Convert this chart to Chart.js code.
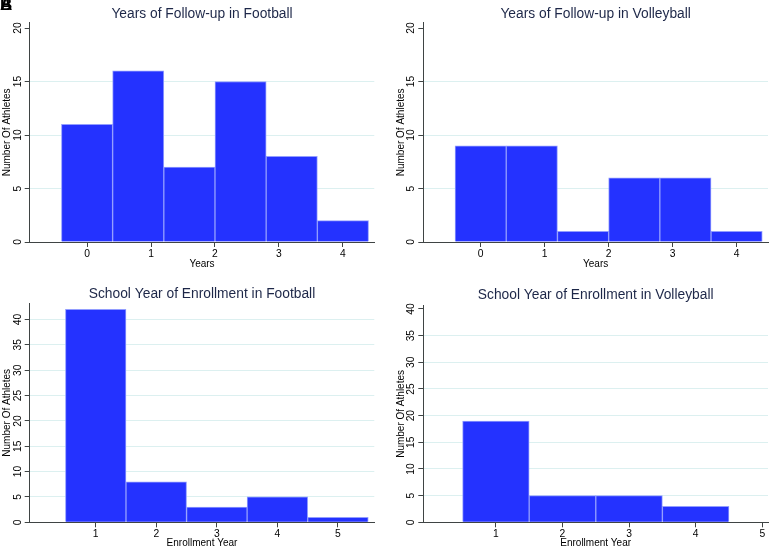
<!DOCTYPE html>
<html>
<head>
<meta charset="utf-8">
<script src="https://cdn.jsdelivr.net/npm/chart.js@4"></script>
<style>
  html, body { margin: 0; padding: 0; background: #fff; overflow: hidden; }
  #wrap { position: relative; width: 770px; height: 549px; overflow: hidden; background: #fff; }
  canvas { position: absolute; }
  .lbl { position: absolute; left: 0; top: -4px; font: bold 17px "Liberation Sans", Arial, sans-serif; color: #000; line-height: 17px; }
</style>
</head>
<body>
<div id="wrap">
  <canvas id="c1"></canvas>
  <canvas id="c2"></canvas>
  <canvas id="c3"></canvas>
  <canvas id="c4"></canvas>
  <div class="lbl">A</div>
  <div class="lbl">B</div>
</div>
<script>
// ---- data ----
const followBinCenters = [0, 0.8, 1.6, 2.4, 3.2, 4.0];
const footballFollowUp = [11, 16, 7, 15, 8, 2];
const volleyballFollowUp = [9, 9, 1, 6, 6, 1];
const footballEnrollYears = [1, 2, 3, 4, 5];
const footballEnrollment = [42, 8, 3, 5, 1];
const volleyballEnrollYears = [1, 2, 3, 4];
const volleyballEnrollment = [19, 5, 5, 3];
const followXTicks = [0, 1, 2, 3, 4];
const enrollXTicks = [1, 2, 3, 4, 5];
const followYTicks = [0, 5, 10, 15, 20];
const enrollYTicks = [0, 5, 10, 15, 20, 25, 30, 35, 40];
const titles = [
  'Years of Follow-up in Football',
  'Years of Follow-up in Volleyball',
  'School Year of Enrollment in Football',
  'School Year of Enrollment in Volleyball'
];
const xTitles = ['Years', 'Years', 'Enrollment Year', 'Enrollment Year'];
const yTitle = 'Number Of Athletes';

// ---- styling ----
const FONT = '"Liberation Sans", Arial, Helvetica, sans-serif';
const BAR = '#2432ff';
const BAR_EDGE = 'rgba(140,152,255,0.95)';
const AXIS = '#3f4444';
const GRID = '#dcf0f0';
const TITLE_COLOR = '#1d2748';

function makePanel(id, box, lay, centers, values, xTicks, yTicks, xr, yr, title, xTitle, hideTopGrid) {
  const cv = document.getElementById(id);
  cv.width = box.w; cv.height = box.h;
  cv.style.left = box.x + 'px'; cv.style.top = box.y + 'px';
  cv.style.width = box.w + 'px'; cv.style.height = box.h + 'px';
  const data = centers.map((c, i) => ({ x: c, y: values[i] }));
  new Chart(cv, {
    type: 'bar',
    data: { datasets: [{ data, backgroundColor: BAR, borderColor: BAR_EDGE, borderWidth: 1,
      barPercentage: 1, categoryPercentage: 1 }] },
    options: {
      responsive: false, animation: false, devicePixelRatio: 1,
      layout: { padding: { left: 0, top: 0, bottom: 0, right: lay.padR } },
      plugins: {
        legend: { display: false }, tooltip: { enabled: false },
        title: { display: true, fullSize: false, text: title, color: TITLE_COLOR,
          font: { family: FONT, size: 13.8, weight: 'normal', lineHeight: 1.2 },
          padding: { top: lay.tTop, bottom: lay.tBot } }
      },
      scales: {
        x: {
          type: 'linear', min: xr[0], max: xr[1], offset: false,
          afterFit: s => { s.height = lay.xH; },
          afterBuildTicks: s => { s.ticks = xTicks.map(v => ({ value: v })); },
          grid: { display: true, drawOnChartArea: false, offset: false, tickLength: 5, tickColor: AXIS, tickWidth: 1 },
          border: { display: true, color: AXIS, width: 1 },
          ticks: { autoSkip: false, maxRotation: 0, minRotation: 0, padding: 1, color: '#000',
            font: { family: FONT, size: 10.3 } },
          title: { display: true, text: xTitle, color: '#000', font: { family: FONT, size: 10, lineHeight: 1.2 },
            padding: { top: 0, bottom: lay.xtB } }
        },
        y: {
          type: 'linear', min: yr[0], max: yr[1],
          afterFit: s => { s.width = lay.yW; },
          afterBuildTicks: s => { s.ticks = yTicks.map(v => ({ value: v })); },
          grid: {
            drawOnChartArea: true, tickLength: 5, tickColor: AXIS, tickWidth: 1, lineWidth: 1,
            color: ctx => {
              const v = ctx.tick ? ctx.tick.value : null;
              if (v === 0) return 'rgba(0,0,0,0)';
              if (hideTopGrid && v === yTicks[yTicks.length - 1]) return 'rgba(0,0,0,0)';
              return GRID;
            }
          },
          border: { display: true, color: AXIS, width: 1 },
          ticks: { autoSkip: false, minRotation: 90, maxRotation: 90, crossAlign: 'center', padding: 1,
            color: '#000', font: { family: FONT, size: 10.3 } },
          title: { display: true, text: yTitle, color: '#000', font: { family: FONT, size: 10, lineHeight: 1.2 },
            padding: { top: lay.ytT, bottom: 0 } }
        }
      }
    }
  });
}

makePanel('c1', { x: 0, y: 0, w: 385, h: 275 },
  { padR: 10.7, yW: 29.7, xH: 33, tTop: 5.5, tBot: 0.64, xtB: 5, ytT: 1.5 },
  followBinCenters, footballFollowUp, followXTicks, followYTicks, [-0.896, 4.49], [0, 20.5], titles[0], xTitles[0], true);

makePanel('c2', { x: 385, y: 0, w: 385, h: 275 },
  { padR: 2, yW: 38.3, xH: 33, tTop: 5.5, tBot: 0.64, xtB: 5, ytT: 10 },
  followBinCenters, volleyballFollowUp, followXTicks, followYTicks, [-0.896, 4.49], [0, 20.5], titles[1], xTitles[1], true);

makePanel('c3', { x: 0, y: 275, w: 385, h: 274 },
  { padR: 10.7, yW: 29.7, xH: 26.7, tTop: 11.2, tBot: 0.54, xtB: 0, ytT: 1.3 },
  footballEnrollYears, footballEnrollment, enrollXTicks, enrollYTicks, [-0.09, 5.6], [0, 43.2], titles[2], xTitles[2], false);

makePanel('c4', { x: 385, y: 275, w: 385, h: 274 },
  { padR: 2, yW: 38.3, xH: 26.7, tTop: 11.5, tBot: 2.44, xtB: 0, ytT: 10 },
  volleyballEnrollYears, volleyballEnrollment, enrollXTicks, enrollYTicks, [-0.09, 5.086], [0, 40.65], titles[3], xTitles[3], true);
</script>
</body>
</html>
